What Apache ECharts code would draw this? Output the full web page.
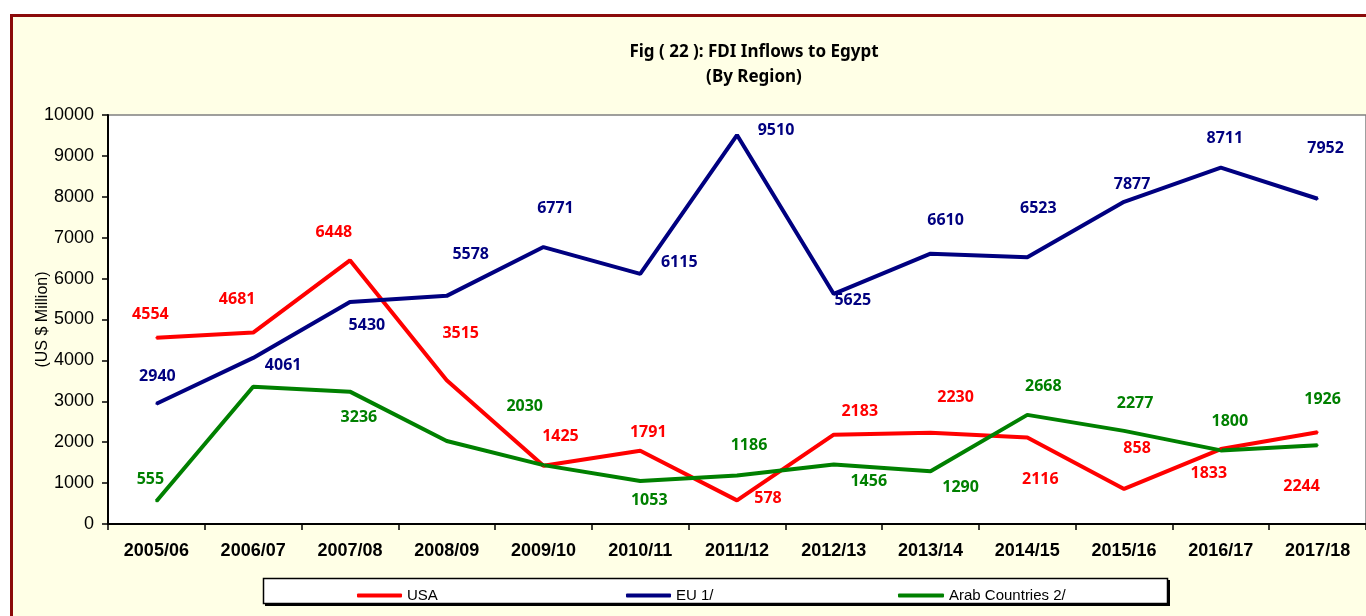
<!DOCTYPE html>
<html>
<head>
<meta charset="utf-8">
<script src="https://cdn.jsdelivr.net/npm/echarts@6/dist/echarts.min.js"></script>
<style>
html,body{margin:0;padding:0;background:#fff;}
#chart{width:1366px;height:616px;}
</style>
</head>
<body>
<div id="chart"></div>
<script>
const categories = ['2005/06','2006/07','2007/08','2008/09','2009/10','2010/11','2011/12','2012/13','2013/14','2014/15','2015/16','2016/17','2017/18'];
const usaValues  = [4554, 4681, 6448, 3515, 1425, 1791, 578, 2183, 2230, 2116, 858, 1833, 2244];
const euValues   = [2940, 4061, 5430, 5578, 6771, 6115, 9510, 5625, 6610, 6523, 7877, 8711, 7952];
const arabValues = [555, 3355, 3236, 2030, 1440, 1053, 1186, 1456, 1290, 2668, 2277, 1800, 1926];
const yTicks = {min: 0, max: 10000, interval: 1000};

// label offsets (pixels from point), null = no label
const usaLabelOffsets  = [[-6,-23],[-16,-33],[-16,-28],[14,-47],[17,-29],[8,-18],[31,-2],[26,-23],[25,-35],[13,42],[13,-40],[-12,24],[-16,54]];
const euLabelOffsets   = [[1,-27],[30,8],[17,24],[24,-41],[12,-39],[39,-11],[39,-5],[19,6],[15,-33],[11,-49],[8,-17],[4,-29],[8,-50]];
const arabLabelOffsets = [[-6,-22],null,[9,26],[78,-35],null,[9,20],[12,-30],[35,17],[30,16],[16,-28],[11,-27],[9,-29],[5,-46]];

function build(values, offsets){
  return values.map((v,i)=>{
    const o = offsets[i];
    return {value: v, label: o ? {show:true, offset:o} : {show:false}};
  });
}

const labelFont = {fontFamily:'Noto Sans', fontWeight:'bold', fontSize:16};

function series(name, values, offsets, color){
  return {
    name, type:'line', data: build(values, offsets),
    symbol:'circle', symbolSize:2, showSymbol:true,
    lineStyle:{color, width:4},
    itemStyle:{color},
    label:Object.assign({position:'inside', color, align:'center', verticalAlign:'middle'}, labelFont),
    emphasis:{disabled:true},
    animation:false
  };
}

const chart = echarts.init(document.getElementById('chart'), null, {renderer:'canvas'});
chart.setOption({
  animation:false,
  backgroundColor:'#ffffff',
  graphic:[
    {type:'rect', z:-10, shape:{x:11.5, y:15.5, width:1400, height:700}, style:{fill:'#FFFFE6', stroke:'#8B0A0A', lineWidth:3}},
    {type:'rect', z:-5, shape:{x:265, y:580, width:905, height:26}, style:{fill:'#000'}},
    {type:'rect', z:-4, shape:{x:263.5, y:578.5, width:904, height:25}, style:{fill:'#fff', stroke:'#000', lineWidth:1.5}}
  ],
  title:{
    text:'Fig ( 22 ): FDI Inflows to Egypt\n(By Region)',
    left:749, top:35, textAlign:'center',
    textStyle:{fontFamily:'Noto Sans', fontWeight:'bold', fontSize:17, color:'#000', lineHeight:25}
  },
  legend:[
    {data:['USA'], left:352, top:583, icon:'roundRect', itemWidth:45, itemHeight:4, textStyle:{fontFamily:'Liberation Sans', fontSize:15, color:'#000'}},
    {data:['EU 1/'], left:621, top:583, icon:'roundRect', itemWidth:45, itemHeight:4, textStyle:{fontFamily:'Liberation Sans', fontSize:15, color:'#000'}},
    {data:['Arab Countries 2/'], left:893, top:583, icon:'roundRect', itemWidth:46, itemHeight:4, textStyle:{fontFamily:'Liberation Sans', fontSize:15, color:'#000'}}
  ],
  grid:{left:108, top:115, width:1265, height:409, show:true, backgroundColor:'#ffffff', borderColor:'#808080', borderWidth:1.5, containLabel:false},
  xAxis:{
    type:'category', data:categories, boundaryGap:true,
    axisLine:{lineStyle:{color:'#000', width:2}},
    axisTick:{show:true, length:6, lineStyle:{color:'#000', width:1.5}},
    axisLabel:{interval:0, margin:18, color:'#000', fontFamily:'Liberation Sans', fontWeight:'bold', fontSize:18},
    splitLine:{show:false}
  },
  yAxis:{
    type:'value', min:yTicks.min, max:yTicks.max, interval:yTicks.interval,
    name:'(US $ Million)', nameLocation:'middle', nameRotate:90, nameGap:57, nameMoveOverlap:false,
    nameTextStyle:{fontFamily:'Liberation Sans', fontSize:16, color:'#000'},
    axisLine:{show:true, lineStyle:{color:'#000', width:2}},
    axisTick:{show:true, length:6, lineStyle:{color:'#000', width:1.5}},
    axisLabel:{margin:14, color:'#000', fontFamily:'Liberation Sans', fontSize:18, formatter:(v)=>String(v)},
    splitLine:{show:false}
  },
  series:[
    series('USA', usaValues, usaLabelOffsets, '#FF0000'),
    series('EU 1/', euValues, euLabelOffsets, '#000080'),
    series('Arab Countries 2/', arabValues, arabLabelOffsets, '#008000')
  ]
});
</script>
</body>
</html>
